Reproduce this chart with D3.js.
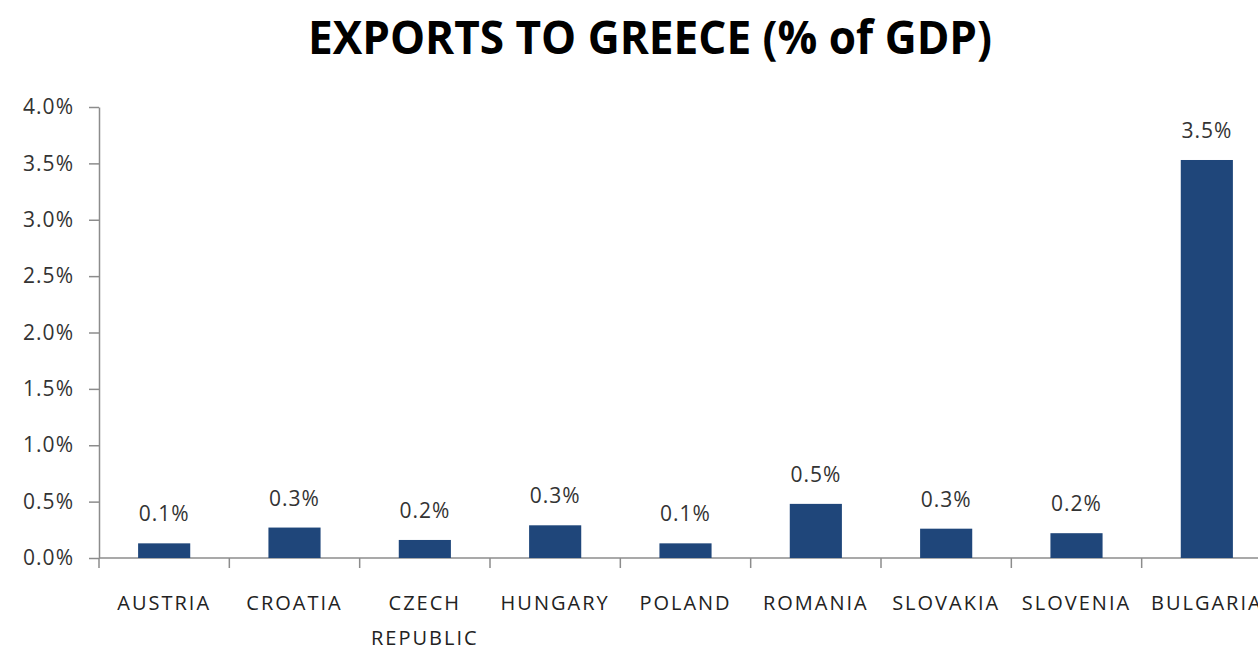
<!DOCTYPE html>
<html>
<head>
<meta charset="utf-8">
<script src="https://cdn.jsdelivr.net/npm/d3@7"></script>
<style>
  body { margin: 0; background: #fff; }
  svg { display: block; }
</style>
</head>
<body>
<div id="chart"></div>
<script>
// values (% of GDP)
var countries = ["AUSTRIA", "CROATIA", "CZECH REPUBLIC", "HUNGARY", "POLAND", "ROMANIA", "SLOVAKIA", "SLOVENIA", "BULGARIA"];
var exportsPct = [0.13, 0.27, 0.16, 0.29, 0.13, 0.48, 0.26, 0.22, 3.53];
var yTicks = [0, 0.5, 1.0, 1.5, 2.0, 2.5, 3.0, 3.5, 4.0];

var width = 1258, height = 653;
var plotLeft = 99, plotTop = 107, plotBottom = 558, plotRight = 1272;
var font = "Open Sans, Arial, sans-serif";

var data = countries.map(function(c, i) { return { name: c, value: exportsPct[i] }; });

var svg = d3.select("#chart").append("svg")
    .attr("width", width)
    .attr("height", height);

var x = d3.scaleBand()
    .domain(countries)
    .range([plotLeft, plotRight])
    .paddingInner(0.6)
    .paddingOuter(0.3);

var y = d3.scaleLinear()
    .domain([0, 4])
    .range([plotBottom, plotTop]);

// title
svg.append("text")
    .attr("x", 650)
    .attr("y", 54)
    .attr("text-anchor", "middle")
    .attr("textLength", 684)
    .attr("lengthAdjust", "spacingAndGlyphs")
    .style("font-family", font)
    .style("font-weight", "bold")
    .style("font-size", "46px")
    .style("fill", "#000")
    .text("EXPORTS TO GREECE (% of GDP)");

// y axis
var yAxis = svg.append("g")
    .attr("transform", "translate(" + plotLeft + ",0)")
    .call(d3.axisLeft(y).tickValues(yTicks).tickSize(10).tickSizeOuter(0)
        .tickFormat(function(d) { return d3.format(".1f")(d) + "%"; }));
yAxis.selectAll("path, line").attr("stroke", "#8c8c8c").attr("stroke-width", 1.5);
yAxis.selectAll("text")
    .attr("x", -25)
    .style("font-family", font)
    .style("font-size", "21px")
    .style("letter-spacing", "1px")
    .style("fill", "#333");

// x axis with ticks between categories
var xAxisG = svg.append("g").attr("transform", "translate(0," + plotBottom + ")");
xAxisG.append("line")
    .attr("x1", plotLeft).attr("x2", width)
    .attr("stroke", "#8c8c8c").attr("stroke-width", 1.5);
xAxisG.selectAll(".sep")
    .data(countries)
    .enter().append("line")
    .attr("class", "sep")
    .attr("x1", function(d) { return x(d) - x.step() * x.paddingInner() / 2; })
    .attr("x2", function(d) { return x(d) - x.step() * x.paddingInner() / 2; })
    .attr("y1", 0).attr("y2", 10)
    .attr("stroke", "#8c8c8c").attr("stroke-width", 1.5);

xAxisG.selectAll(".cat")
    .data(data)
    .enter().append("text")
    .attr("class", "cat")
    .attr("text-anchor", "middle")
    .attr("y", 52)
    .style("font-family", font)
    .style("font-size", "20px")
    .style("letter-spacing", "2px")
    .style("fill", "#222")
    .each(function(d) {
        var words = d.name === "CZECH REPUBLIC" ? ["CZECH", "REPUBLIC"] : [d.name];
        var t = d3.select(this);
        words.forEach(function(w, i) {
            t.append("tspan")
                .attr("x", x(d.name) + x.bandwidth() / 2)
                .attr("dy", i === 0 ? 0 : 35)
                .text(w);
        });
    });

// bars
svg.selectAll(".bar")
    .data(data)
    .enter().append("rect")
    .attr("class", "bar")
    .attr("x", function(d) { return x(d.name); })
    .attr("width", x.bandwidth())
    .attr("y", function(d) { return y(d.value); })
    .attr("height", function(d) { return y(0) - y(d.value); })
    .style("fill", "#1F467A");

// value labels
svg.selectAll(".val")
    .data(data)
    .enter().append("text")
    .attr("class", "val")
    .attr("text-anchor", "middle")
    .attr("x", function(d) { return x(d.name) + x.bandwidth() / 2; })
    .attr("y", function(d) { return y(d.value) - 22; })
    .style("font-family", font)
    .style("font-size", "21px")
    .style("letter-spacing", "1px")
    .style("fill", "#333")
    .text(function(d) { return d3.format(".1f")(d.value) + "%"; });
</script>
</body>
</html>
